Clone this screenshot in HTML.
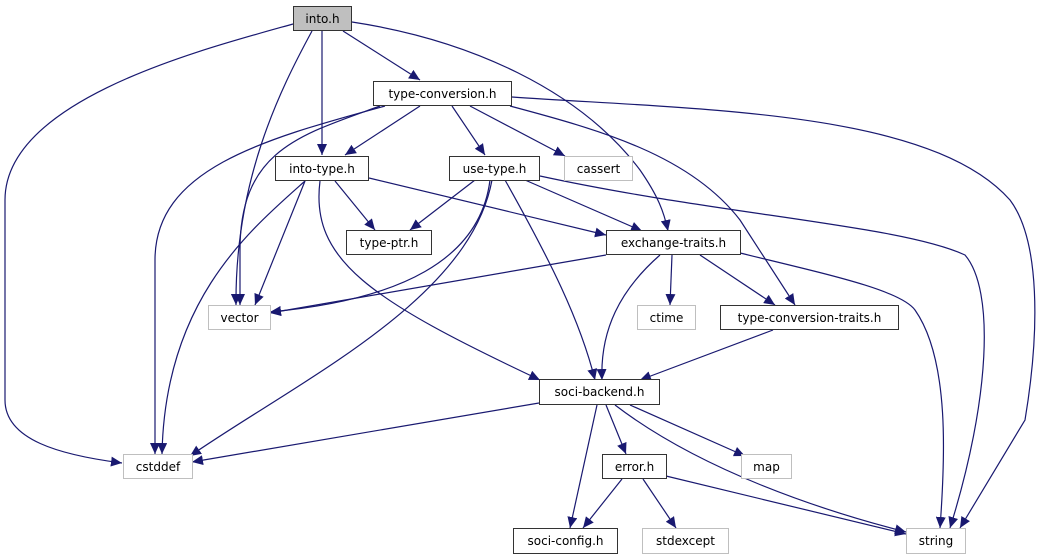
<!DOCTYPE html>
<html><head><meta charset="utf-8"><style>
html,body{margin:0;padding:0;background:#fff;}
svg{display:block;}
text{font-family:"DejaVu Sans","Liberation Sans",sans-serif;font-size:12px;fill:#000;}
</style></head><body>
<svg width="1043" height="560" viewBox="0 0 1043 560" xmlns="http://www.w3.org/2000/svg">
<defs>
<marker id="a" markerWidth="11" markerHeight="10" refX="11" refY="5" orient="auto" markerUnits="userSpaceOnUse">
<path d="M0,0 L11,5 L0,10 z" fill="#191970"/>
</marker>
</defs>
<g fill="none" stroke="#191970" stroke-width="1.2" marker-end="url(#a)">
<path d="M293,24 C200,50 5,100 5,200 L5,400 C5,440 60,455 122,463"/>
<path d="M312,31 C280,90 235,180 236,305"/>
<path d="M322,31 L322,155"/>
<path d="M343,31 L420,80"/>
<path d="M352,22 C470,40 580,90 640,170 C658,196 664,212 668,231"/>
<path d="M420,106 L345,155"/>
<path d="M452,106 L485,155"/>
<path d="M470,106 L565,156"/>
<path d="M385,106 C260,140 155,170 155,260 L155,454"/>
<path d="M380,106 C300,135 240,150 240,250 L240,305"/>
<path d="M510,106 C600,130 690,155 740,220 L795,305"/>
<path d="M512,97 C700,110 930,110 1010,200 C1040,240 1040,330 1025,420 L960,528"/>
<path d="M335,181 L375,230"/>
<path d="M369,178 L606,235"/>
<path d="M305,181 L255,305"/>
<path d="M305,181 C250,230 165,300 162,454"/>
<path d="M320,181 C310,260 370,300 540,380"/>
<path d="M475,180 L410,230"/>
<path d="M525,180 L642,231"/>
<path d="M540,176 C720,215 900,225 965,255 C995,290 990,400 950,528"/>
<path d="M490,180 C480,260 400,300 270,312"/>
<path d="M492,180 C470,300 300,380 190,456"/>
<path d="M505,180 C550,260 580,320 595,380"/>
<path d="M606,255 L270,313"/>
<path d="M672,255 L670,305"/>
<path d="M700,255 L775,305"/>
<path d="M660,255 C620,290 600,330 602,380"/>
<path d="M740,253 C830,275 900,290 915,310 C950,360 945,460 940,528"/>
<path d="M773,330 L640,380"/>
<path d="M539,403 L192,462"/>
<path d="M597,405 L570,528"/>
<path d="M606,405 L626,454"/>
<path d="M630,405 L745,456"/>
<path d="M615,405 C700,470 820,510 906,532"/>
<path d="M622,479 L583,528"/>
<path d="M643,479 L676,528"/>
<path d="M666,476 L906,534"/>
</g>
<g stroke-width="1">
<rect x="293.5" y="6.5" width="58" height="24" fill="#bfbfbf" stroke="#333"/>
<rect x="373.5" y="81.5" width="138" height="24" fill="#fff" stroke="#333"/>
<rect x="275.5" y="156.5" width="93" height="24" fill="#fff" stroke="#333"/>
<rect x="449.5" y="156.5" width="90" height="24" fill="#fff" stroke="#333"/>
<rect x="564.5" y="156.5" width="68" height="24" fill="#fff" stroke="#bfbfbf"/>
<rect x="346.5" y="230.5" width="85" height="24" fill="#fff" stroke="#333"/>
<rect x="606.5" y="230.5" width="134" height="24" fill="#fff" stroke="#333"/>
<rect x="208.5" y="305.5" width="62" height="24" fill="#fff" stroke="#bfbfbf"/>
<rect x="637.5" y="305.5" width="58" height="24" fill="#fff" stroke="#bfbfbf"/>
<rect x="720.5" y="305.5" width="178" height="24" fill="#fff" stroke="#333"/>
<rect x="539.5" y="379.5" width="120" height="25" fill="#fff" stroke="#333"/>
<rect x="123.5" y="454.5" width="69" height="24" fill="#fff" stroke="#bfbfbf"/>
<rect x="602.5" y="454.5" width="64" height="24" fill="#fff" stroke="#333"/>
<rect x="741.5" y="454.5" width="50" height="24" fill="#fff" stroke="#bfbfbf"/>
<rect x="513.5" y="528.5" width="104" height="25" fill="#fff" stroke="#333"/>
<rect x="642.5" y="528.5" width="86" height="25" fill="#fff" stroke="#bfbfbf"/>
<rect x="906.5" y="528.5" width="59" height="25" fill="#fff" stroke="#bfbfbf"/>
</g>
<g text-anchor="middle">
<text x="322.5" y="23">into.h</text>
<text x="442.5" y="98">type-conversion.h</text>
<text x="322" y="173">into-type.h</text>
<text x="494.5" y="173">use-type.h</text>
<text x="598.5" y="173">cassert</text>
<text x="389" y="247">type-ptr.h</text>
<text x="673.5" y="247">exchange-traits.h</text>
<text x="239.5" y="322">vector</text>
<text x="666.5" y="322">ctime</text>
<text x="809.5" y="322">type-conversion-traits.h</text>
<text x="599.5" y="396">soci-backend.h</text>
<text x="158" y="471">cstddef</text>
<text x="634.5" y="471">error.h</text>
<text x="766.5" y="471">map</text>
<text x="565.5" y="545">soci-config.h</text>
<text x="685.5" y="545">stdexcept</text>
<text x="936" y="545">string</text>
</g>
</svg>
</body></html>
